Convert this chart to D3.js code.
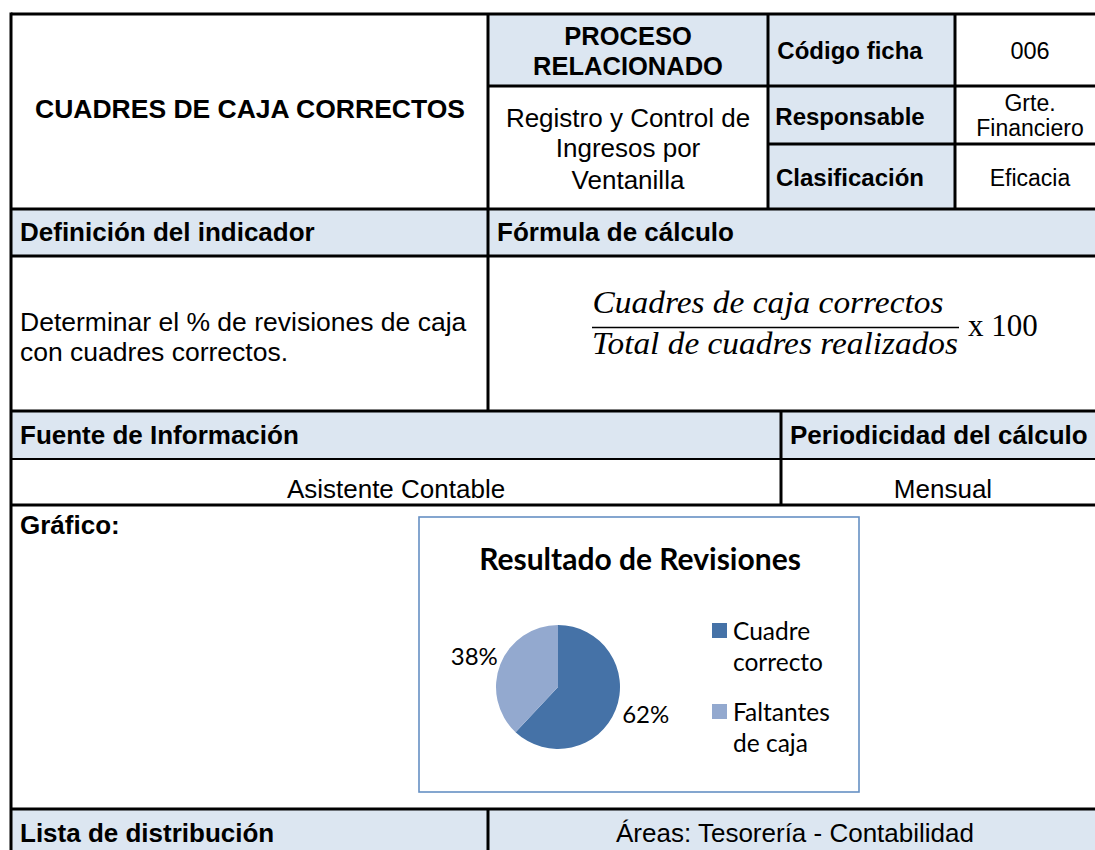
<!DOCTYPE html>
<html><head><meta charset="utf-8">
<script src="https://cdn.jsdelivr.net/npm/d3@7"></script>
<style>
html,body{margin:0;padding:0;background:#fff;}
svg{display:block;}
</style></head>
<body>
<svg id="c" width="1095" height="850"></svg>
<script>
// ---- data ----
const categories = ["Cuadre correcto", "Faltantes de caja"];
const legendLines = [["Cuadre", "correcto"], ["Faltantes", "de caja"]];
const values = [62, 38];
const sliceColors = ["#4572A7", "#93A9CF"];
const chartTitle = "Resultado de Revisiones";

const svg = d3.select("#c");
const HEAD = "#DCE6F1";
const ARIAL = "'Liberation Sans', Arial, sans-serif";
const CAL = "Lato, 'Open Sans', sans-serif";

// fills
const fills = [
  [488,14,768,86],[768,14,955,86],[768,86,955,144],[768,144,955,209],
  [11,209,1100,256],[11,411,1100,459],[11,809,1100,855]
];
svg.selectAll("rect.f").data(fills).join("rect").attr("class","f")
  .attr("x",d=>d[0]).attr("y",d=>d[1]).attr("width",d=>d[2]-d[0]).attr("height",d=>d[3]-d[1])
  .attr("fill",HEAD);

// lines
const hl = [[14,11,1100,3],[86,488,1100,3],[144,768,1100,3],[209,11,1100,3],[256,11,1100,3],
  [411,11,1100,3],[459,11,1100,2],[505,11,1100,3],[809,11,1100,3]];
const vl = [[11,12.5,855,3],[488,14,411,3],[768,14,209,3],[955,14,209,3],[781,411,505,3],[488,809,855,3]];
hl.forEach(l=>svg.append("line").attr("x1",l[1]).attr("x2",l[2]).attr("y1",l[0]).attr("y2",l[0])
  .attr("stroke","#000").attr("stroke-width",l[3]));
vl.forEach(l=>svg.append("line").attr("x1",l[0]).attr("x2",l[0]).attr("y1",l[1]).attr("y2",l[2])
  .attr("stroke","#000").attr("stroke-width",l[3]));

function T(x,y,s,o={}){
  const t = svg.append("text").attr("x",x).attr("y",y).text(s)
    .attr("font-family",o.family||ARIAL).attr("font-size",o.size||26)
    .attr("font-weight",o.bold?"bold":"normal").attr("text-anchor",o.anchor||"start")
    .attr("fill","#000");
  if(o.italic) t.attr("font-style","italic");
  if(o.len) t.attr("textLength",o.len).attr("lengthAdjust","spacingAndGlyphs");
  return t;
}
// top section
T(250,118,"CUADRES DE CAJA CORRECTOS",{bold:true,anchor:"middle",size:26.5});
T(628,45,"PROCESO",{bold:true,anchor:"middle",size:25.5});
T(628,75,"RELACIONADO",{bold:true,anchor:"middle",size:25.5});
T(850,59,"Código ficha",{bold:true,anchor:"middle",size:24});
T(1030,59,"006",{anchor:"middle",size:23.5});
T(628,127,"Registro y Control de",{anchor:"middle",size:26});
T(628,157,"Ingresos por",{anchor:"middle",size:26});
T(628,189,"Ventanilla",{anchor:"middle",size:26});
T(850,125,"Responsable",{bold:true,anchor:"middle",size:24});
T(1030,111,"Grte.",{anchor:"middle",size:23});
T(1030,136,"Financiero",{anchor:"middle",size:23});
T(850,186,"Clasificación",{bold:true,anchor:"middle",size:24});
T(1030,186,"Eficacia",{anchor:"middle",size:23});
// headers
T(20,241,"Definición del indicador",{bold:true,size:26});
T(497,241,"Fórmula de cálculo",{bold:true,size:26});
T(20,331,"Determinar el % de revisiones de caja",{size:26.5});
T(20,361,"con cuadres correctos.",{size:26.5});
// formula
T(768,313,"Cuadres de caja correctos",{family:"'Liberation Serif', serif",italic:true,size:32,anchor:"middle",len:351});
svg.append("line").attr("x1",592).attr("x2",959).attr("y1",327.5).attr("y2",327.5).attr("stroke","#000").attr("stroke-width",1.6);
T(775,354,"Total de cuadres realizados",{family:"'Liberation Serif', serif",italic:true,size:32,anchor:"middle",len:366});
T(968,336,"x 100",{family:"'Liberation Serif', serif",size:31});
// fuente
T(20,444,"Fuente de Información",{bold:true,size:26});
T(790,444,"Periodicidad del cálculo",{bold:true,size:26});
T(396,498,"Asistente Contable",{anchor:"middle",size:26});
T(943,498,"Mensual",{anchor:"middle",size:26});
T(20,534,"Gráfico:",{bold:true,size:26});
// bottom
T(20,842,"Lista de distribución",{bold:true,size:26});
T(795,842,"Áreas: Tesorería - Contabilidad",{anchor:"middle",size:26});

// ---- chart ----
svg.append("rect").attr("x",419).attr("y",517).attr("width",440).attr("height",275)
  .attr("fill","#fff").attr("stroke","#6690C4").attr("stroke-width",1.6);
T(640,570,chartTitle,{family:CAL,bold:true,size:30,anchor:"middle"});

const cx=558, cy=687, R=62;
const pie = d3.pie().sort(null).value(d=>d)(values);
const arc = d3.arc().innerRadius(0).outerRadius(R);
const labArc = d3.arc().innerRadius(90).outerRadius(90);
const g = svg.append("g").attr("transform",`translate(${cx},${cy})`);
g.selectAll("path").data(pie).join("path").attr("d",arc).attr("fill",(d,i)=>sliceColors[i]);
g.selectAll("text").data(pie).join("text")
  .attr("x",d=>labArc.centroid(d)[0]+(d.index===0?4:0))
  .attr("y",d=>labArc.centroid(d)[1]+(d.index===0?-5:3)+8)
  .attr("text-anchor","middle").attr("font-family",CAL).attr("font-size",24)
  .text(d=>d3.format(".0%")(d.value/d3.sum(values)));

const lg = svg.append("g");
const legY = [623, 704];
categories.forEach((c,i)=>{
  lg.append("rect").attr("x",712).attr("y",legY[i]).attr("width",15).attr("height",15).attr("fill",sliceColors[i]);
  legendLines[i].forEach((ln,j)=>{
    lg.append("text").attr("x",733).attr("y",legY[i]+17+j*31).attr("font-family",CAL).attr("font-size",24.5).text(ln);
  });
});
</script>
</body></html>
